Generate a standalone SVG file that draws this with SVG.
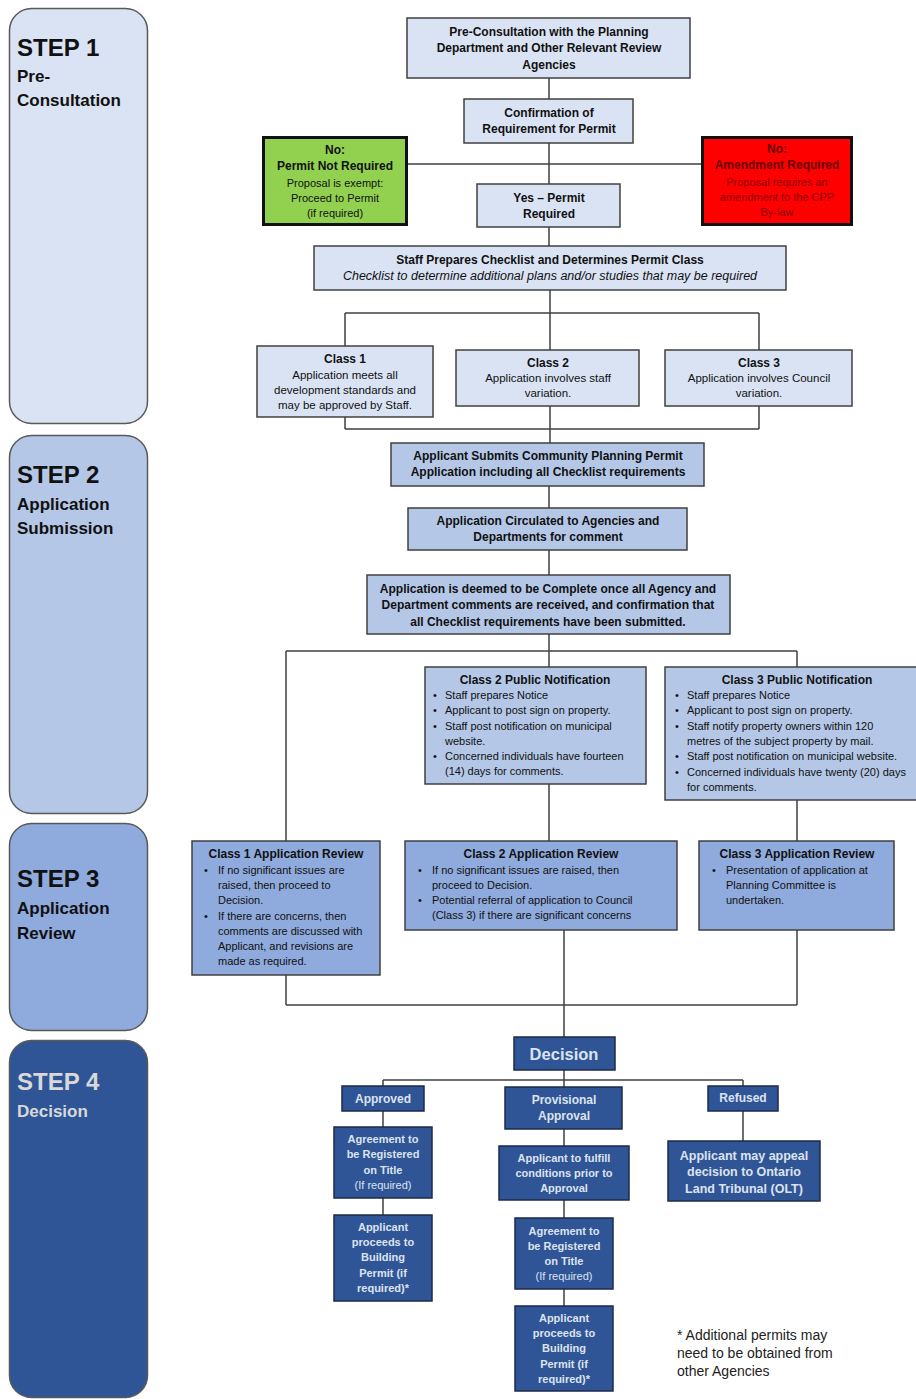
<svg xmlns="http://www.w3.org/2000/svg" width="916" height="1399" viewBox="0 0 916 1399">
<style>
text{font-family:"Liberation Sans",Arial,sans-serif;fill:#111}
.step rect{stroke:#595959;stroke-width:1.5}
.sh{font-size:24px;font-weight:bold}
.ss{font-size:17px;font-weight:bold}
.lt{fill:#d9d9d9}
.box{stroke:#404040;stroke-width:1.5}
.c1{fill:#dae3f3}.c2{fill:#b4c7e7}.c3{fill:#8faadc}.c4{fill:#2f5597;stroke:#1c2a48}
.b{font-size:12px;font-weight:bold;text-anchor:middle}
.r{font-size:11.5px;text-anchor:middle}
.i{font-size:12.5px;font-style:italic;text-anchor:middle}
.bl{font-size:11px}
.w{fill:#dde3ee}
.dr{fill:#6a0000}.dr2{fill:#8a0000}
#connectors path{fill:none;stroke:#404040;stroke-width:1.5}
</style>

<g id="connectors">
<path d="M549 78V99M549 143V184M407 164H702M549 227V246M550 290V313M345 313H759M345 313V346M550 313V350M759 313V350M345 417V429M759 406V429M345 429H759M550 406V443M549 486V508M549 550V575M549 634V667M286 651H797M286 651V841M797 651V667M549 784V841M797 800V841M286 975V1005M797 930V1005M286 1005H797M564 930V1037M564 1070V1087M383 1080H743M383 1080V1086M743 1080V1086M383 1111V1127M383 1198V1215M564 1129V1146M564 1200V1218M564 1289V1306M743 1111V1141"/>
</g>

<g id="step1" class="step">
<rect x="9.5" y="8.5" width="138" height="415" rx="22" fill="#dae3f3"/>
<text x="17" y="56" class="sh">STEP 1</text>
<text x="17" y="82" class="ss">Pre-</text>
<text x="17" y="106" class="ss">Consultation</text>
</g>
<g id="step2" class="step">
<rect x="9.5" y="435.5" width="138" height="378" rx="22" fill="#b4c7e7"/>
<text x="17" y="483" class="sh">STEP 2</text>
<text x="17" y="510" class="ss">Application</text>
<text x="17" y="534" class="ss">Submission</text>
</g>
<g id="step3" class="step">
<rect x="9.5" y="823.5" width="138" height="207" rx="22" fill="#8faadc"/>
<text x="17" y="887" class="sh">STEP 3</text>
<text x="17" y="914" class="ss">Application</text>
<text x="17" y="939" class="ss">Review</text>
</g>
<g id="step4" class="step">
<rect x="9.5" y="1040.5" width="138" height="357" rx="22" fill="#2f5597"/>
<text x="17" y="1090" class="sh lt">STEP 4</text>
<text x="17" y="1117" class="ss lt">Decision</text>
</g>

<g id="preconsult">
<rect x="407" y="18" width="283" height="60" class="box c1"/>
<text x="549" y="36" class="b">Pre-Consultation with the Planning</text>
<text x="549" y="52" class="b">Department and Other Relevant Review</text>
<text x="549" y="69" class="b">Agencies</text>
</g>
<g id="confirm">
<rect x="464" y="99" width="169" height="44" class="box c1"/>
<text x="549" y="117" class="b">Confirmation of</text>
<text x="549" y="133" class="b">Requirement for Permit</text>
</g>
<g id="notrequired">
<rect x="263.5" y="137.5" width="143" height="87" fill="#92d050" stroke="#111" stroke-width="3"/>
<text x="335" y="154" class="b">No:</text>
<text x="335" y="170" class="b">Permit Not Required</text>
<text x="335" y="187" class="r" style="font-size:11px">Proposal is exempt:</text>
<text x="335" y="202" class="r" style="font-size:11px">Proceed to Permit</text>
<text x="335" y="217" class="r" style="font-size:11px">(if required)</text>
</g>
<g id="amendment">
<rect x="702.5" y="137.5" width="149" height="87" fill="#ff0000" stroke="#111" stroke-width="3"/>
<text x="777" y="153" class="b dr">No:</text>
<text x="777" y="169" class="b dr">Amendment Required</text>
<text x="777" y="186" class="r dr2" style="font-size:11px">Proposal requires an</text>
<text x="777" y="201" class="r dr2" style="font-size:11px">amendment to the CPP</text>
<text x="777" y="216" class="r dr2" style="font-size:11px">By-law</text>
</g>
<g id="yes">
<rect x="477" y="184" width="143" height="43" class="box c1"/>
<text x="549" y="202" class="b">Yes – Permit</text>
<text x="549" y="218" class="b">Required</text>
</g>
<g id="checklist">
<rect x="314" y="246" width="472" height="44" class="box c1"/>
<text x="550" y="264" class="b">Staff Prepares Checklist and Determines Permit Class</text>
<text x="550" y="280" class="i">Checklist to determine additional plans and/or studies that may be required</text>
</g>
<g id="class1">
<rect x="257" y="346" width="176" height="71" class="box c1"/>
<text x="345" y="363" class="b">Class 1</text>
<text x="345" y="379" class="r">Application meets all</text>
<text x="345" y="394" class="r">development standards and</text>
<text x="345" y="409" class="r">may be approved by Staff.</text>
</g>
<g id="class2">
<rect x="456" y="350" width="183" height="56" class="box c1"/>
<text x="548" y="367" class="b">Class 2</text>
<text x="548" y="382" class="r">Application involves staff</text>
<text x="548" y="397" class="r">variation.</text>
</g>
<g id="class3">
<rect x="665" y="350" width="187" height="56" class="box c1"/>
<text x="759" y="367" class="b">Class 3</text>
<text x="759" y="382" class="r">Application involves Council</text>
<text x="759" y="397" class="r">variation.</text>
</g>
<g id="submits">
<rect x="391" y="443" width="313" height="43" class="box c2"/>
<text x="548" y="460" class="b">Applicant Submits Community Planning Permit</text>
<text x="548" y="476" class="b">Application including all Checklist requirements</text>
</g>
<g id="circulated">
<rect x="408" y="508" width="279" height="42" class="box c2"/>
<text x="548" y="525" class="b">Application Circulated to Agencies and</text>
<text x="548" y="541" class="b">Departments for comment</text>
</g>
<g id="complete">
<rect x="367" y="575" width="363" height="59" class="box c2"/>
<text x="548" y="593" class="b">Application is deemed to be Complete once all Agency and</text>
<text x="548" y="609" class="b">Department comments are received, and confirmation that</text>
<text x="548" y="626" class="b">all Checklist requirements have been submitted.</text>
</g>
<g id="notif2">
<rect x="425" y="667" width="221" height="117" class="box c2"/>
<text x="535" y="684" class="b">Class 2 Public Notification</text>
<g class="bl">
<text x="433" y="699">•</text><text x="445" y="699">Staff prepares Notice</text>
<text x="433" y="714">•</text><text x="445" y="714">Applicant to post sign on property.</text>
<text x="433" y="730">•</text><text x="445" y="730">Staff post notification on municipal</text>
<text x="445" y="745">website.</text>
<text x="433" y="760">•</text><text x="445" y="760">Concerned individuals have fourteen</text>
<text x="445" y="775">(14) days for comments.</text>
</g>
</g>
<g id="notif3">
<rect x="665" y="667" width="260" height="133" class="box c2"/>
<text x="797" y="684" class="b">Class 3 Public Notification</text>
<g class="bl">
<text x="675" y="699">•</text><text x="687" y="699">Staff prepares Notice</text>
<text x="675" y="714">•</text><text x="687" y="714">Applicant to post sign on property.</text>
<text x="675" y="730">•</text><text x="687" y="730">Staff notify property owners within 120</text>
<text x="687" y="745">metres of the subject property by mail.</text>
<text x="675" y="760">•</text><text x="687" y="760">Staff post notification on municipal website.</text>
<text x="675" y="776">•</text><text x="687" y="776">Concerned individuals have twenty (20) days</text>
<text x="687" y="791">for comments.</text>
</g>
</g>
<g id="review1">
<rect x="192" y="841" width="188" height="134" class="box c3"/>
<text x="286" y="858" class="b">Class 1 Application Review</text>
<g class="bl">
<text x="204" y="874">•</text><text x="218" y="874">If no significant issues are</text>
<text x="218" y="889">raised, then proceed to</text>
<text x="218" y="904">Decision.</text>
<text x="204" y="920">•</text><text x="218" y="920">If there are concerns, then</text>
<text x="218" y="935">comments are discussed with</text>
<text x="218" y="950">Applicant, and revisions are</text>
<text x="218" y="965">made as required.</text>
</g>
</g>
<g id="review2">
<rect x="405" y="841" width="272" height="89" class="box c3"/>
<text x="541" y="858" class="b">Class 2 Application Review</text>
<g class="bl">
<text x="418" y="874">•</text><text x="432" y="874">If no significant issues are raised, then</text>
<text x="432" y="889">proceed to Decision.</text>
<text x="418" y="904">•</text><text x="432" y="904">Potential referral of application to Council</text>
<text x="432" y="919">(Class 3) if there are significant concerns</text>
</g>
</g>
<g id="review3">
<rect x="699" y="841" width="195" height="89" class="box c3"/>
<text x="797" y="858" class="b">Class 3 Application Review</text>
<g class="bl">
<text x="712" y="874">•</text><text x="726" y="874">Presentation of application at</text>
<text x="726" y="889">Planning Committee is</text>
<text x="726" y="904">undertaken.</text>
</g>
</g>
<g id="decision">
<rect x="514" y="1037" width="101" height="33" class="box c4"/>
<text x="564" y="1060" class="b w" style="font-size:16.5px">Decision</text>
</g>
<g id="approved">
<rect x="342" y="1086" width="82" height="25" class="box c4"/>
<text x="383" y="1103" class="b w">Approved</text>
</g>
<g id="provisional">
<rect x="505" y="1087" width="117" height="42" class="box c4"/>
<text x="564" y="1104" class="b w">Provisional</text>
<text x="564" y="1120" class="b w">Approval</text>
</g>
<g id="refused">
<rect x="708" y="1086" width="70" height="25" class="box c4"/>
<text x="743" y="1102" class="b w">Refused</text>
</g>
<g id="agree1">
<rect x="334" y="1127" width="98" height="71" class="box c4"/>
<text x="383" y="1143" class="b w" style="font-size:11px">Agreement to</text>
<text x="383" y="1158" class="b w" style="font-size:11px">be Registered</text>
<text x="383" y="1174" class="b w" style="font-size:11px">on Title</text>
<text x="383" y="1189" class="r w" style="font-size:11px">(If required)</text>
</g>
<g id="building1">
<rect x="334" y="1215" width="98" height="86" class="box c4"/>
<text x="383" y="1231" class="b w" style="font-size:11px">Applicant</text>
<text x="383" y="1246" class="b w" style="font-size:11px">proceeds to</text>
<text x="383" y="1261" class="b w" style="font-size:11px">Building</text>
<text x="383" y="1277" class="b w" style="font-size:11px">Permit (if</text>
<text x="383" y="1292" class="b w" style="font-size:11px">required)*</text>
</g>
<g id="fulfill">
<rect x="499" y="1146" width="130" height="54" class="box c4"/>
<text x="564" y="1162" class="b w" style="font-size:11px">Applicant  to fulfill</text>
<text x="564" y="1177" class="b w" style="font-size:11px">conditions  prior to</text>
<text x="564" y="1192" class="b w" style="font-size:11px">Approval</text>
</g>
<g id="agree2">
<rect x="515" y="1218" width="98" height="71" class="box c4"/>
<text x="564" y="1235" class="b w" style="font-size:11px">Agreement to</text>
<text x="564" y="1250" class="b w" style="font-size:11px">be Registered</text>
<text x="564" y="1265" class="b w" style="font-size:11px">on Title</text>
<text x="564" y="1280" class="r w" style="font-size:11px">(If required)</text>
</g>
<g id="building2">
<rect x="515" y="1306" width="98" height="85" class="box c4"/>
<text x="564" y="1322" class="b w" style="font-size:11px">Applicant</text>
<text x="564" y="1337" class="b w" style="font-size:11px">proceeds to</text>
<text x="564" y="1352" class="b w" style="font-size:11px">Building</text>
<text x="564" y="1368" class="b w" style="font-size:11px">Permit (if</text>
<text x="564" y="1383" class="b w" style="font-size:11px">required)*</text>
</g>
<g id="appeal">
<rect x="668" y="1141" width="152" height="60" class="box c4"/>
<text x="744" y="1160" class="b w" style="font-size:12.5px">Applicant may appeal</text>
<text x="744" y="1176" class="b w" style="font-size:12.5px">decision to Ontario</text>
<text x="744" y="1193" class="b w" style="font-size:12.5px">Land Tribunal (OLT)</text>
</g>
<g id="footnote">
<text x="677" y="1340" style="font-size:14px;fill:#222">* Additional permits may</text>
<text x="677" y="1358" style="font-size:14px;fill:#222">need to be obtained from</text>
<text x="677" y="1376" style="font-size:14px;fill:#222">other Agencies</text>
</g>
</svg>
